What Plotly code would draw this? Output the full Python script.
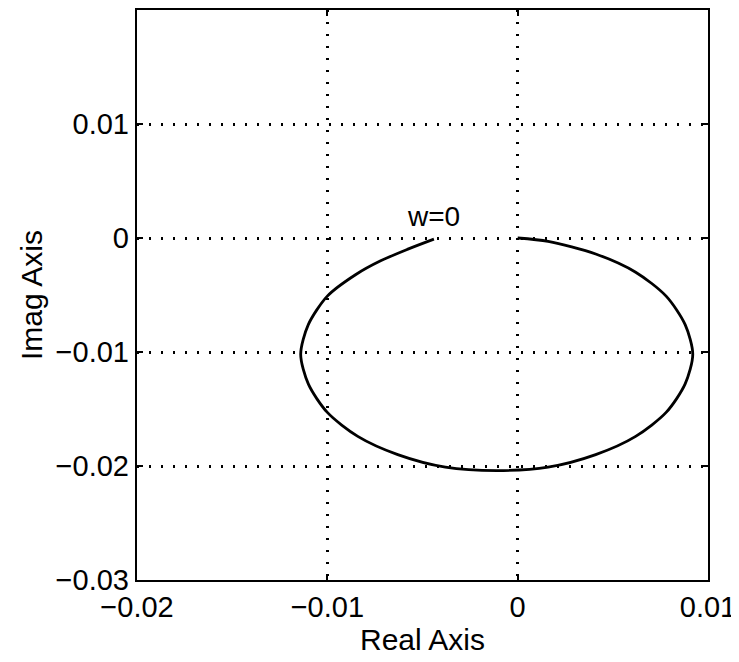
import plotly.graph_objects as go

# Curve points (Real, Imag)
real_vals = [0.0000, 0.0016, 0.0041, 0.0062, 0.0078, 0.0088, 0.0092, 0.0088, 0.0078,
             0.0062, 0.0041, 0.0016, -0.0011, -0.0038, -0.0063, -0.0084, -0.0100,
             -0.0110, -0.0114, -0.0110, -0.0100, -0.0085, -0.0072, -0.0058, -0.0044]
imag_vals = [0.0000, -0.0003, -0.0014, -0.0030, -0.0051, -0.0076, -0.0102, -0.0128, -0.0153,
             -0.0174, -0.0190, -0.0201, -0.0204, -0.0201, -0.0190, -0.0174, -0.0153,
             -0.0128, -0.0102, -0.0076, -0.0051, -0.0032, -0.0020, -0.0010, -0.0001]

x_ticks = [-0.02, -0.01, 0, 0.01]
x_tick_text = ["\u22120.02", "\u22120.01", "0", "0.01"]
y_ticks = [-0.03, -0.02, -0.01, 0, 0.01]
y_tick_text = ["\u22120.03", "\u22120.02", "\u22120.01", "0", "0.01"]

label_text = "w=0"
label_pos = (-0.0044, 0.0019)

font_family = "Liberation Sans, Arial, sans-serif"

fig = go.Figure()
fig.add_trace(go.Scatter(
    x=real_vals, y=imag_vals, mode="lines",
    line=dict(color="black", width=2.8, shape="spline", smoothing=0.8),
    hoverinfo="skip", showlegend=False,
))

fig.add_annotation(
    x=label_pos[0], y=label_pos[1], text=label_text, showarrow=False,
    font=dict(family=font_family, size=28, color="black"),
)

axis_common = dict(
    showline=True, linecolor="black", linewidth=2.4, mirror="ticks",
    ticks="inside", ticklen=6, tickwidth=2, tickcolor="black",
    showgrid=True, gridcolor="black", gridwidth=2.5, griddash="2px,10px",
    zeroline=False,
    tickfont=dict(family=font_family, size=29, color="black"),
    title_font=dict(family=font_family, size=30, color="black"),
)

fig.update_xaxes(
    range=[-0.02, 0.01], tickvals=x_ticks, ticktext=x_tick_text,
    title_text="Real Axis", title_standoff=0, **axis_common,
)
fig.update_yaxes(
    range=[-0.03, 0.02], tickvals=y_ticks, ticktext=y_tick_text,
    title_text="Imag Axis", title_standoff=4, **axis_common,
)

fig.update_layout(
    width=731, height=654,
    margin=dict(l=129, r=31, t=2, b=82, autoexpand=False),
    paper_bgcolor="white", plot_bgcolor="white",
    showlegend=False,
)

fig.write_html("out.html")
